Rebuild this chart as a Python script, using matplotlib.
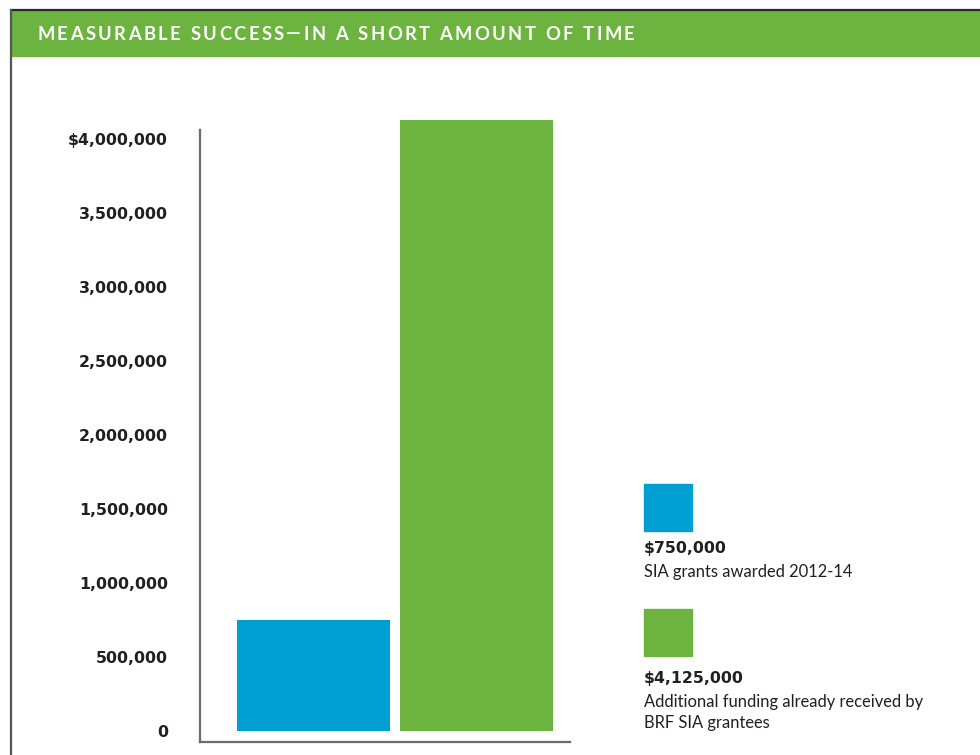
import matplotlib.pyplot as plt
from matplotlib.patches import Rectangle
from matplotlib.lines import Line2D

# data
categories = ["SIA grants awarded 2012-14", "Additional funding already received by\nBRF SIA grantees"]
values = [750000, 4125000]
value_labels = ["$750,000", "$4,125,000"]
colors = ["#009fd1", "#6cb33f"]
yticks = [0, 500000, 1000000, 1500000, 2000000, 2500000, 3000000, 3500000, 4000000]
ytick_labels = ["0", "500,000", "1,000,000", "1,500,000", "2,000,000",
                "2,500,000", "3,000,000", "3,500,000", "$4,000,000"]
title = "MEASURABLE SUCCESS\u2014IN A SHORT AMOUNT OF TIME"

W, H = 980, 755
fig = plt.figure(figsize=(W / 100, H / 100), dpi=100)

def fx(px):
    return px / W

def fy(py):
    return 1 - py / H

# frame + header band
fig.add_artist(Rectangle((fx(12), fy(56)), fx(980 - 12), (56 - 11) / H,
                         color="#6cb33f", transform=fig.transFigure))
fig.add_artist(Line2D([fx(11), 1], [fy(10), fy(10)], color="#2b2b2b", lw=1.6,
                      transform=fig.transFigure))
fig.add_artist(Line2D([fx(11), fx(11)], [fy(10), 0], color="#555555", lw=1.6,
                      transform=fig.transFigure))

# letter-spaced title, laid out char by char
renderer = fig.canvas.get_renderer()
tracking = 2.45  # extra px between letters
cx = 37
for ch in title:
    t = fig.text(fx(cx), fy(34), ch, color="white", fontsize=13.2, fontweight="bold",
                 family="Lato", va="center", ha="left")
    w = t.get_window_extent(renderer).width
    if ch == " ":
        w = 13.2 * 100 / 72 * 0.26
    cx += w + tracking

# axes
ax = fig.add_axes([fx(200), fy(742), fx(370), (742 - 130) / H])
x = [0, 1]
ax.bar(x, values, width=0.94, color=colors, clip_on=False)
ax.set_xlim(-0.696, 1.574)
ppm = 148.0  # pixels per million
zero_px = 731
ax.set_ylim(-(742 - zero_px) / ppm * 1e6, (zero_px - 130) / ppm * 1e6)
for s in ["top", "right"]:
    ax.spines[s].set_visible(False)
for s in ["left", "bottom"]:
    ax.spines[s].set_color("#6b6b6b")
    ax.spines[s].set_linewidth(1.6)
ax.set_xticks([])
ax.set_yticks(yticks)
ax.set_yticklabels(ytick_labels, fontsize=11.3, fontweight="bold", color="#231f20",
                   family="DejaVu Sans")
ax.tick_params(axis="y", length=0, pad=23)

# legend-like annotations
sq_tops = [484, 609]
val_y = [549, 678]
desc_top = [564, 694]
for i in range(2):
    t = sq_tops[i]
    fig.add_artist(Rectangle((fx(644), fy(t + 47)), fx(48), 47 / H,
                             color=colors[i], transform=fig.transFigure))
    fig.text(fx(644), fy(val_y[i]), value_labels[i], fontsize=11.3, fontweight="bold",
             color="#231f20", va="center", ha="left", family="DejaVu Sans")
    fig.text(fx(644), fy(desc_top[i]), categories[i], fontsize=11.9, color="#231f20",
             va="top", ha="left", family="Lato", linespacing=1.36)

fig.savefig("out.png", dpi=100)
